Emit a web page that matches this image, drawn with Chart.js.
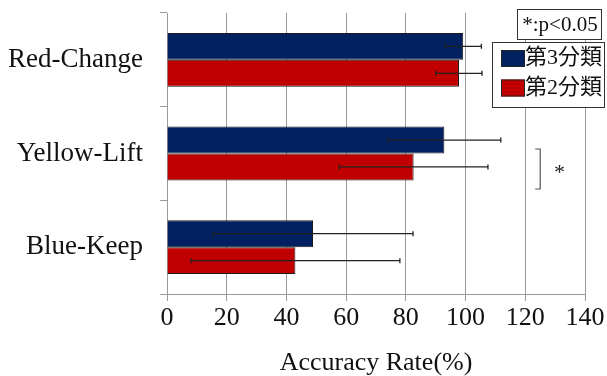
<!DOCTYPE html>
<html>
<head>
<meta charset="utf-8">
<script src="https://cdn.jsdelivr.net/npm/chart.js@4"></script>
<style>
  html, body { margin: 0; padding: 0; background: #fff; }
  #wrap { width: 607px; height: 376px; position: relative; }
</style>
</head>
<body>
<div id="wrap"><canvas id="chart" width="607" height="376"></canvas></div>
<script>
// Task categories (top to bottom)
const categories = ['Red-Change', 'Yellow-Lift', 'Blue-Keep'];

// Mean accuracy (%) and standard deviation per group
const class3Means  = [99.2, 92.9, 48.9];
const class3Errors = [6.1, 18.9, 33.5];
const class2Means  = [97.8, 82.6, 43.0];
const class2Errors = [7.7, 24.9, 35.0];

const seriesNames = ['第3分類', '第2分類'];
const seriesColors = ['#002060', '#C00000'];

// Axis settings
const xMin = 0;
const xMax = 140;
const xStep = 20;
const xTitle = 'Accuracy Rate(%)';

// Significance note
const noteText = '*:p<0.05';
const sigMark = '*';
const sigCategory = 1;

const SERIF = '"Liberation Serif", "Times New Roman", serif';
const CJK = '"Liberation Serif", "Noto Sans CJK JP", serif';

const errors = [class3Errors, class2Errors];

// Error bars drawn on top of each bar, spanning mean ± SD
const errorBarPlugin = {
  id: 'errorBars',
  afterDatasetsDraw(chart) {
    const ctx = chart.ctx;
    const xs = chart.scales.x;
    ctx.save();
    ctx.strokeStyle = '#222';
    ctx.lineWidth = 1.3;
    chart.data.datasets.forEach((ds, di) => {
      const meta = chart.getDatasetMeta(di);
      meta.data.forEach((bar, i) => {
        const m = ds.data[i];
        const e = errors[di][i];
        const x1 = xs.getPixelForValue(m - e);
        const x2 = xs.getPixelForValue(m + e);
        const y = bar.y;
        ctx.beginPath();
        ctx.moveTo(x1, y); ctx.lineTo(x2, y);
        ctx.moveTo(x1, y - 2.5); ctx.lineTo(x1, y + 2.5);
        ctx.moveTo(x2, y - 2.5); ctx.lineTo(x2, y + 2.5);
        ctx.stroke();
      });
    });
    ctx.restore();
  }
};

// Legend box, significance note and bracket
const annotationPlugin = {
  id: 'annotations',
  afterDraw(chart) {
    const ctx = chart.ctx;
    const xs = chart.scales.x;
    const ys = chart.scales.y;
    ctx.save();

    // p-value note box
    ctx.fillStyle = '#fff';
    ctx.fillRect(517, 9, 85, 31);
    ctx.strokeStyle = '#333';
    ctx.lineWidth = 1;
    ctx.strokeRect(517.5, 9.5, 84, 30);
    ctx.fillStyle = '#111';
    ctx.font = '21px ' + SERIF;
    ctx.textAlign = 'center';
    ctx.textBaseline = 'middle';
    ctx.fillText(noteText, 560, 25);

    // legend box
    ctx.fillStyle = '#fff';
    ctx.fillRect(492, 42, 113, 66);
    ctx.strokeStyle = '#333';
    ctx.strokeRect(492.5, 42.5, 112, 65);
    ctx.textAlign = 'left';
    ctx.font = '22px ' + CJK;
    seriesNames.forEach((name, i) => {
      const top = 50 + i * 29.5;
      ctx.fillStyle = seriesColors[i];
      ctx.fillRect(501, top, 24, 17);
      ctx.strokeStyle = '#222';
      ctx.strokeRect(501.5, top + 0.5, 23, 16);
      ctx.fillStyle = '#111';
      ctx.fillText(name, 525, top + 8.5);
    });

    // significance bracket
    const cy = ys.getPixelForValue(sigCategory);
    const bx = xs.getPixelForValue(125.0);
    ctx.strokeStyle = '#555';
    ctx.lineWidth = 1.2;
    ctx.beginPath();
    ctx.moveTo(bx - 5, cy - 4.5);
    ctx.lineTo(bx, cy - 4.5);
    ctx.lineTo(bx, cy + 35.5);
    ctx.lineTo(bx - 5, cy + 35.5);
    ctx.stroke();
    ctx.fillStyle = '#222';
    ctx.font = '22px ' + SERIF;
    ctx.textAlign = 'center';
    ctx.fillText(sigMark, xs.getPixelForValue(131.5), cy + 20);

    ctx.restore();
  }
};

new Chart(document.getElementById('chart'), {
  type: 'bar',
  data: {
    labels: categories,
    datasets: [
      { label: seriesNames[0], data: class3Means, backgroundColor: seriesColors[0], borderColor: '#1a1a1a', borderWidth: 1 },
      { label: seriesNames[1], data: class2Means, backgroundColor: seriesColors[1], borderColor: '#1a1a1a', borderWidth: 1 }
    ]
  },
  options: {
    indexAxis: 'y',
    responsive: false,
    animation: false,
    devicePixelRatio: 1,
    categoryPercentage: 0.575,
    barPercentage: 1.0,
    layout: { padding: { top: 13, right: 22, left: 0, bottom: 0 } },
    plugins: {
      legend: { display: false },
      tooltip: { enabled: false }
    },
    scales: {
      x: {
        min: xMin, max: xMax,
        ticks: { stepSize: xStep, color: '#111', font: { family: SERIF, size: 26 }, padding: 2 },
        grid: { color: '#9a9a9a', lineWidth: 1, tickLength: 7, tickColor: '#9a9a9a' },
        border: { color: '#9a9a9a' },
        title: { display: true, text: xTitle, color: '#111', font: { family: SERIF, size: 26 }, padding: { top: 0, bottom: -3 } },
        afterFit(s) { s.height = 82; s.paddingLeft = 0; s.paddingRight = 0; }
      },
      y: {
        ticks: { color: '#111', font: { family: SERIF, size: 27 }, padding: 17 },
        grid: { drawOnChartArea: false, tickLength: 7, color: '#9a9a9a' },
        border: { color: '#9a9a9a' },
        afterFit(s) { s.width = 167; s.paddingTop = 0; s.paddingBottom = 0; }
      }
    }
  },
  plugins: [errorBarPlugin, annotationPlugin]
});
</script>
</body>
</html>
